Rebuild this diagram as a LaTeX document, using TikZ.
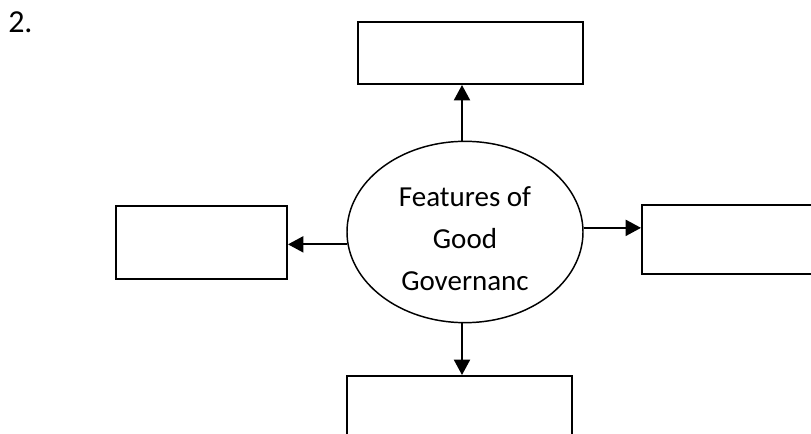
\documentclass[tikz,border=0pt]{standalone}
\usepackage{fontspec}
\setmainfont{Carlito}
\usetikzlibrary{shapes.geometric,arrows.meta}

\begin{document}
\begin{tikzpicture}
	[x=0.75pt,y=-0.75pt,
	every node/.style={font=\fontsize{21.75}{31.5}\selectfont},
	box/.style={draw,line width=1.5pt,rectangle,inner sep=0pt},
	hub/.style={draw,line width=1.1pt,ellipse,inner sep=0pt,align=center,
		minimum width=177pt,minimum height=136pt},
	arr/.style={line width=1.5pt,-{Triangle[length=11.5pt,width=12pt]}}]
	\useasboundingbox (0,0) rectangle (811,434);
	\clip (0,0) rectangle (811,434);

	\node[anchor=base west,inner sep=0pt,font=\fontsize{24}{29}\selectfont] (num) at (8,33) {2.};

	\node[hub] (ell) at (465,232) {\rule{0pt}{25pt}Features of\\Good\\Governanc};

	\node[box,minimum width=168.75pt,minimum height=46.5pt] (top) at (470.5,53) {};
	\node[box,minimum width=128.25pt,minimum height=54.75pt] (left) at (201.5,242.5) {};
	\node[box,minimum width=141pt,minimum height=51.75pt] (right) at (736,239.5) {};
	\node[box,minimum width=168.75pt,minimum height=51pt] (bot) at (459.5,410) {};

	\draw[arr] ([xshift=-2.25pt]ell.north) -- ([xshift=-2.25pt]ell.north |- top.south);
	\draw[arr] ([xshift=-2.25pt]ell.south) -- ([xshift=-2.25pt]ell.south |- bot.north);
	\draw[arr] (ell.186) -- (ell.186 -| left.east);
	\draw[arr] (ell.2) -- (ell.2 -| right.west);

\end{tikzpicture}
\end{document}
